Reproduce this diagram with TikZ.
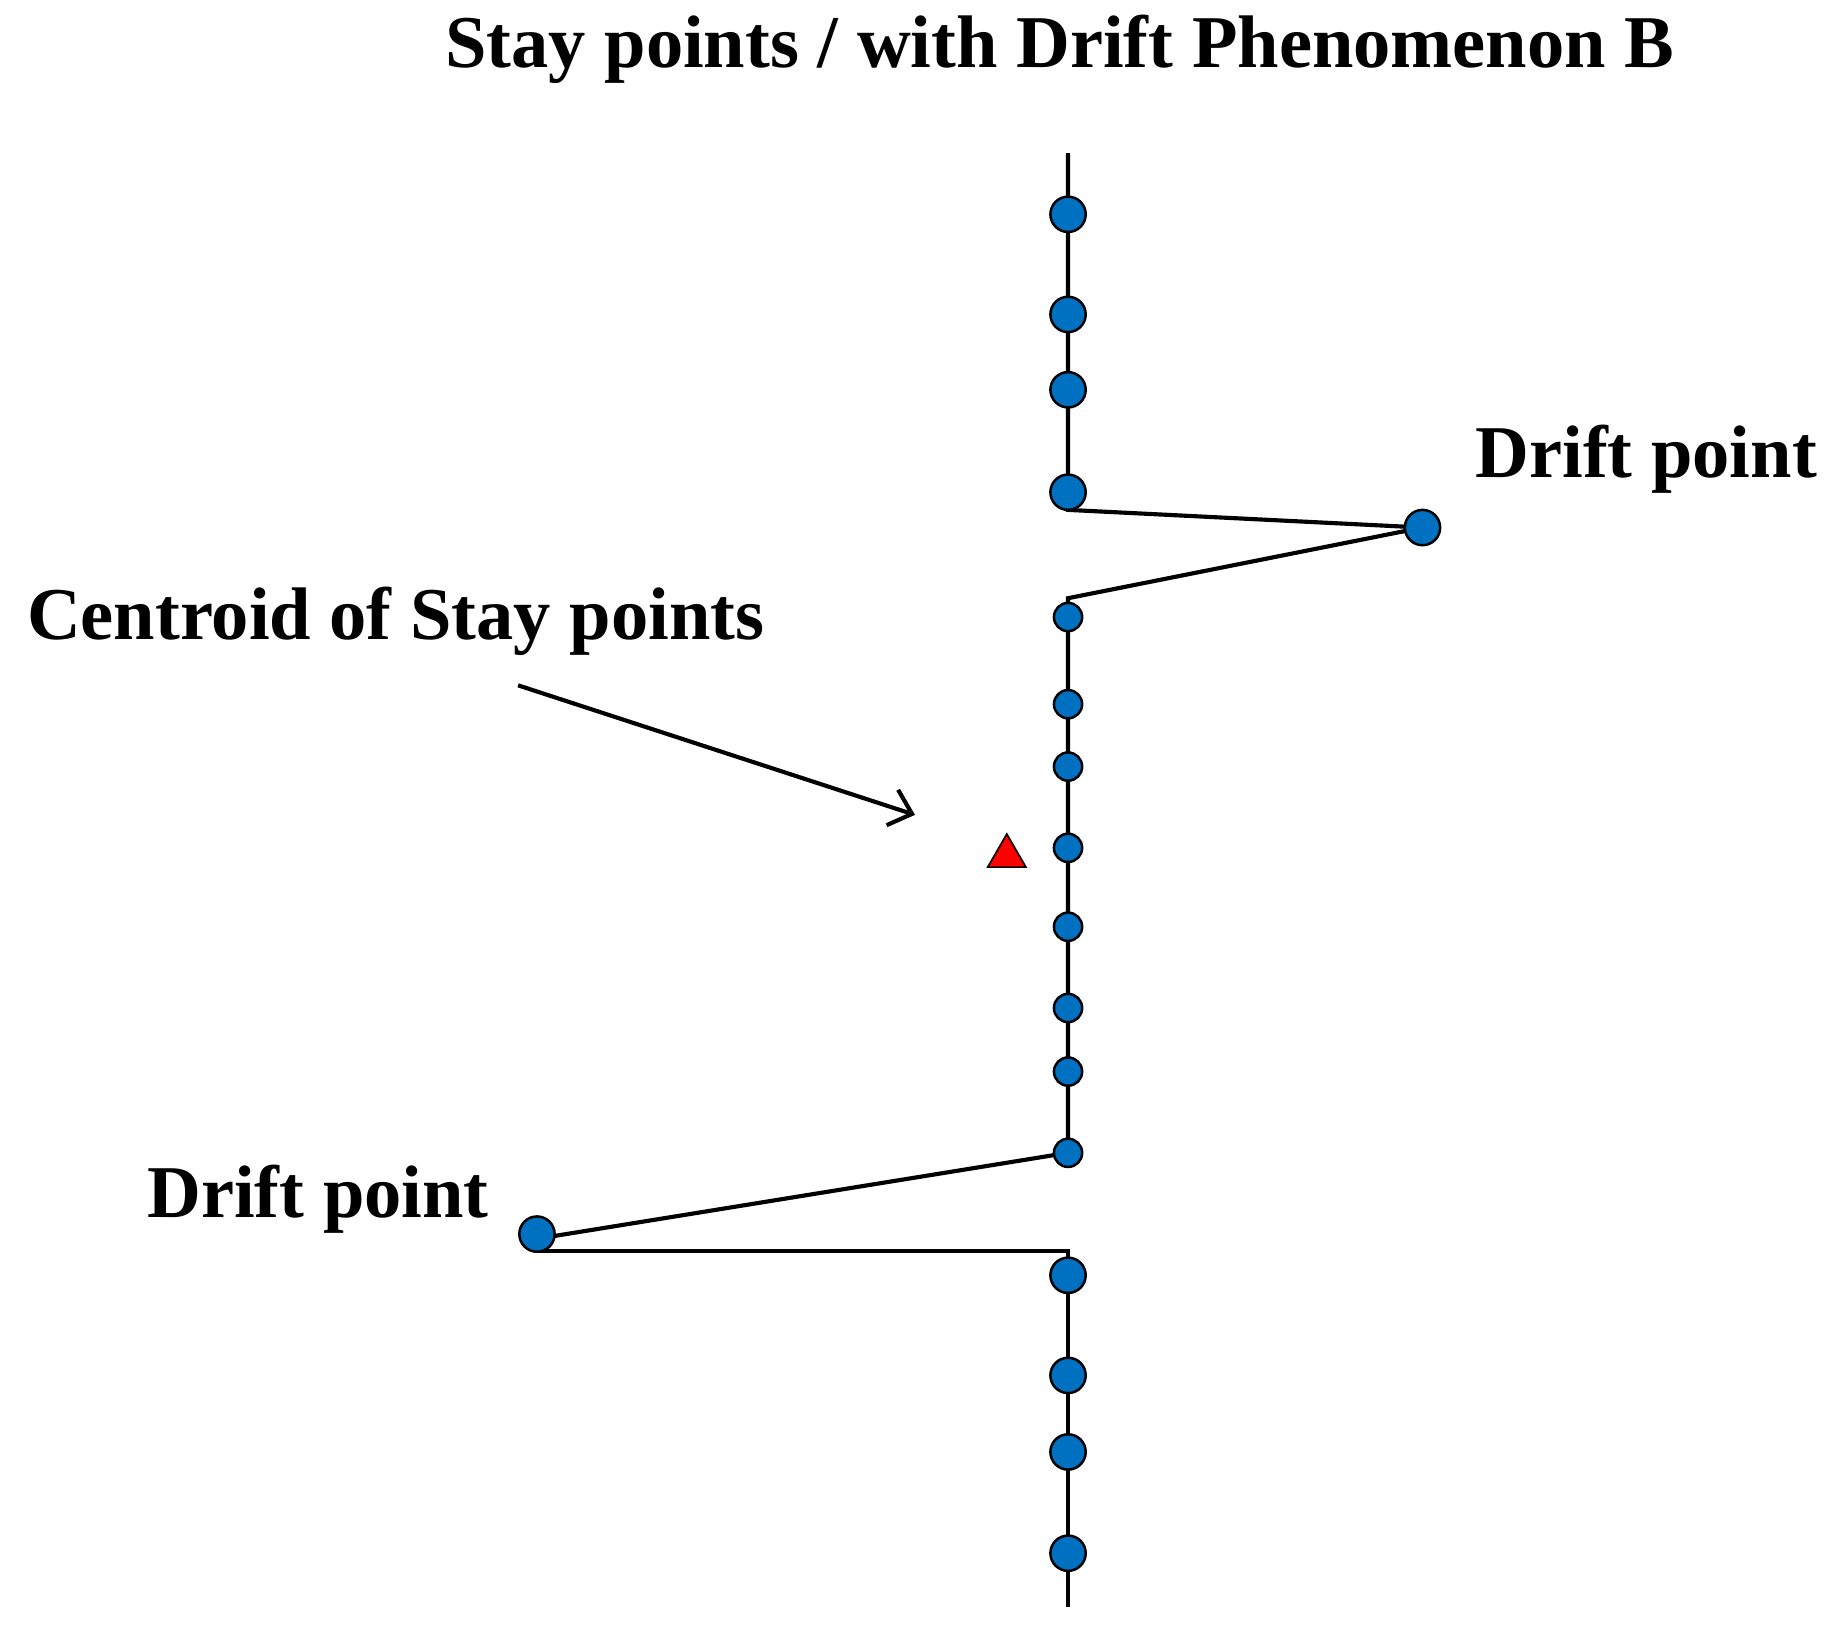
\documentclass[tikz,border=0pt]{standalone}
\usepackage{fontspec}
\setmainfont{Liberation Serif}
\usetikzlibrary{arrows.meta,shapes.geometric}
\definecolor{ptblue}{RGB}{0,112,192}
\begin{document}
\begin{tikzpicture}[x=0.02cm,y=-0.02cm,
  big/.style={circle,draw=black,line width=1.2pt,fill=ptblue,minimum size=0.6cm,inner sep=0pt},
  small/.style={circle,draw=black,line width=1.2pt,fill=ptblue,minimum size=0.48cm,inner sep=0pt},
  lbl/.style={font=\fontsize{36}{40}\selectfont\bfseries},
  ln/.style={line width=2pt}]
\useasboundingbox (0,0) rectangle (1560,1386);
\coordinate (t0) at (907,130);
\coordinate (k1) at (907,433);
\coordinate (k2) at (907,508);
\coordinate (k3) at (907,1062);
\coordinate (b0) at (907,1365);
\coordinate (k4) at (456,1062);
\draw[ln] (t0) -- (k1) -- (1208,448) -- (k2) -- (907,979) -- (456,1052);
\draw[ln] (k4) -- (k3) -- (b0);
\node[big] (a1) at (907,182) {};
\node[big] (a2) at (907,267) {};
\node[big] (a3) at (907,331) {};
\node[big] (a4) at (907,418) {};
\node[big] (d1) at (1208,448) {};
\node[big] (d2) at (456,1048) {};
\foreach \y [count=\i] in {524,598,651,720,787,856,910,979} \node[small] (s\i) at (907,\y) {};
\foreach \y [count=\i] in {1083,1168,1233,1319} \node[big] (c\i) at (907,\y) {};
\node[draw=black,line width=0.8pt,fill=red,regular polygon,regular polygon sides=3,minimum size=0.75cm,inner sep=0pt] (cen) at (855,727) {};
\node[lbl] (title) at (900,42) {Stay points / with Drift Phenomenon B};
\node[lbl] (l1) at (1398,390) {Drift point};
\node[lbl] (l2) at (336,528) {Centroid of Stay points};
\node[lbl] (l3) at (270,1018) {Drift point};
\coordinate (as) at (440,582);
\coordinate (ae) at (777,692);
\draw[ln,-{Straight Barb[length=10pt,width=18pt]}] (as) -- (ae);
\end{tikzpicture}
\end{document}
